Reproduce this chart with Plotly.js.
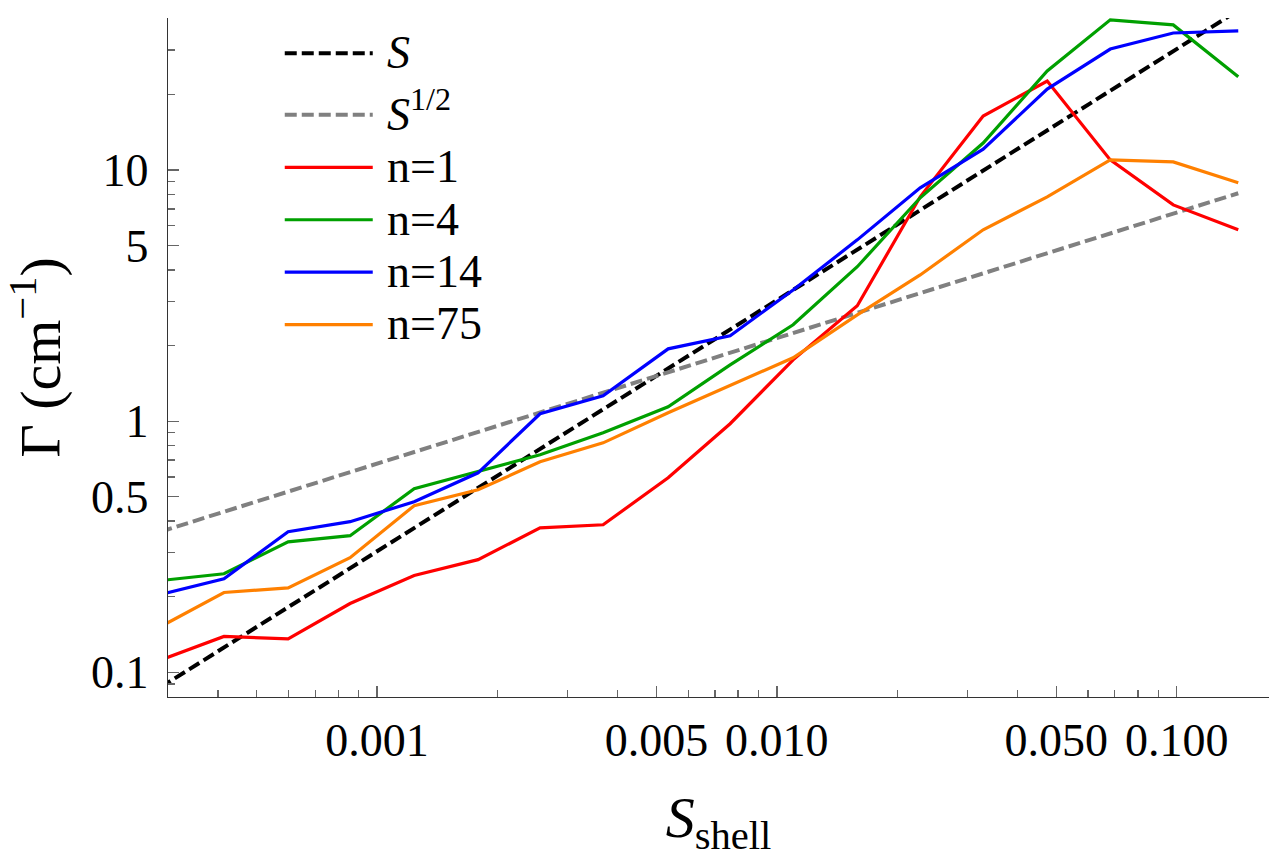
<!DOCTYPE html>
<html>
<head>
<meta charset="utf-8">
<script src="https://cdn.plot.ly/plotly-3.0.1.min.js"></script>
<style>
  html, body { margin: 0; padding: 0; background: #fff; }
  #plot { width: 1280px; height: 858px; }
</style>
</head>
<body>
<div id="plot"></div>
<script>
// shell overlap S (x) and damping rate Gamma in cm^-1 (y)
var sShell = [0.000287, 0.000414, 0.000599, 0.000856, 0.001238, 0.001789,
              0.002557, 0.003676, 0.005346, 0.00764, 0.01098, 0.01589,
              0.02283, 0.03281, 0.04745, 0.06823, 0.09806, 0.1426];

var gammaN1  = [0.112, 0.139, 0.136, 0.188, 0.243, 0.281, 0.376, 0.387, 0.595,
                0.977, 1.755, 2.88, 7.82, 16.4, 22.6, 10.97, 7.26, 5.78];
var gammaN4  = [0.232, 0.247, 0.331, 0.350, 0.538, 0.629, 0.735, 0.899, 1.141,
                1.676, 2.42, 4.12, 7.75, 12.8, 24.8, 39.6, 37.8, 23.5];
var gammaN14 = [0.204, 0.236, 0.363, 0.398, 0.478, 0.623, 1.070, 1.262, 1.941,
                2.187, 3.33, 5.27, 8.49, 12.1, 21.0, 30.3, 35.1, 35.8];
var gammaN75 = [0.152, 0.208, 0.217, 0.286, 0.461, 0.533, 0.689, 0.820, 1.080,
                1.383, 1.788, 2.65, 3.82, 5.78, 7.82, 10.97, 10.77, 8.89];

// guide lines ~S and ~S^(1/2), end points
var guideS      = [0.000287, 0.1426];
var guideLinear = [0.0871, 43.2];
var guideRoot   = [0.363, 8.08];

var seriesNames  = ['n=1', 'n=4', 'n=14', 'n=75'];
var seriesColors = ['#ff0000', '#00a000', '#0000ff', '#ff8000'];
var seriesData   = [gammaN1, gammaN4, gammaN14, gammaN75];

var xMajor = [0.001, 0.005, 0.01, 0.05, 0.1];
var xMajorText = ['0.001', '0.005', '0.010', '0.050', '0.100'];
var xMinor = [0.0004, 0.0005, 0.0006, 0.0007, 0.0008, 0.0009,
              0.002, 0.003, 0.004, 0.006, 0.007, 0.008, 0.009,
              0.02, 0.03, 0.04, 0.06, 0.07, 0.08, 0.09];
var yMajor = [0.1, 0.5, 1, 5, 10];
var yMajorText = ['0.1', '0.5', '1', '5', '10'];
var yMinor = [0.09, 0.2, 0.3, 0.4, 0.6, 0.7, 0.8, 0.9,
              2, 3, 4, 6, 7, 8, 9, 20, 30, 40];

var serif = 'Liberation Serif, Times New Roman, serif';

// legend entries: bigger glyphs than the row spacing would give
function legendLabel(txt) {
    return '<span style="font-size:46px">\u2009' + txt + '</span>';
}

var data = [];
data.push({
    x: guideS, y: guideLinear,
    mode: 'lines', type: 'scatter',
    name: legendLabel('<i>S</i>'), legendgroup: 'g1',
    line: {color: '#000000', width: 4, dash: '12px,5px'}
});
data.push({
    x: guideS, y: guideRoot,
    mode: 'lines', type: 'scatter',
    name: legendLabel('<i>S</i><sup>1/2</sup>'), legendgroup: 'g2',
    line: {color: '#808080', width: 4, dash: '12px,5px'}
});
for (var i = 0; i < seriesData.length; i++) {
    data.push({
        x: sShell, y: seriesData[i],
        mode: 'lines', type: 'scatter',
        name: legendLabel(seriesNames[i]), legend: 'legend2',
        line: {color: seriesColors[i], width: 3.2}
    });
}

var legendBase = {
    xanchor: 'left', yanchor: 'top',
    bgcolor: 'rgba(0,0,0,0)', borderwidth: 0,
    font: {family: serif, size: 38, color: '#000'},
    itemwidth: 88
};

var layout = {
    width: 1280, height: 858,
    paper_bgcolor: '#fff', plot_bgcolor: '#fff',
    margin: {l: 168, r: 11, t: 18, b: 161},
    font: {family: serif, color: '#000'},
    showlegend: true,
    legend: Object.assign({}, legendBase, {x: 0.1015, y: 0.994, tracegroupgap: 9}),
    legend2: Object.assign({}, legendBase, {x: 0.1015, y: 0.826}),
    xaxis: {
        type: 'log',
        range: [-3.523, -0.769],
        showgrid: false, zeroline: false,
        showline: true, linecolor: '#333', linewidth: 1.4, mirror: false,
        tickmode: 'array', tickvals: xMajor, ticktext: xMajorText,
        ticks: 'inside', ticklen: 11, tickwidth: 1.3, tickcolor: '#666',
        ticklabelstandoff: 2,
        tickfont: {family: serif, size: 46, color: '#000'},
        minor: {tickmode: 'array', tickvals: xMinor, ticks: 'inside',
                ticklen: 7, tickwidth: 1.3, tickcolor: '#666', showgrid: false},
        title: {text: '<i>S</i><sub>shell</sub>',
                font: {family: serif, size: 58, color: '#000'}}
    },
    yaxis: {
        type: 'log',
        range: [-1.098, 1.605],
        showgrid: false, zeroline: false,
        showline: true, linecolor: '#333', linewidth: 1.4, mirror: false,
        tickmode: 'array', tickvals: yMajor, ticktext: yMajorText,
        ticks: 'inside', ticklen: 11, tickwidth: 1.3, tickcolor: '#666',
        ticklabelstandoff: 9,
        tickfont: {family: serif, size: 46, color: '#000'},
        minor: {tickmode: 'array', tickvals: yMinor, ticks: 'inside',
                ticklen: 7, tickwidth: 1.3, tickcolor: '#666', showgrid: false},
        title: {text: 'Γ (cm<sup>−1</sup>)',
                font: {family: serif, size: 58, color: '#000'}}
    }
};

Plotly.newPlot('plot', data, layout, {staticPlot: true});
</script>
</body>
</html>
